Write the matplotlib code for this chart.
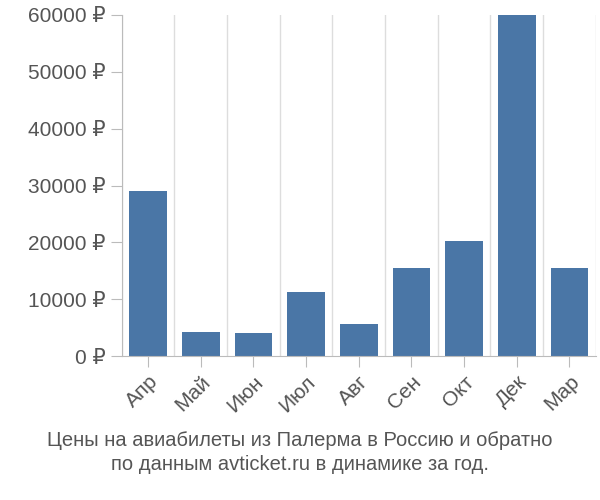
import matplotlib
matplotlib.use("Agg")
import matplotlib.pyplot as plt
import numpy as np

plt.rcParams['font.family'] = ['Liberation Sans', 'DejaVu Sans']

months = ['Апр', 'Май', 'Июн', 'Июл', 'Авг', 'Сен', 'Окт', 'Дек', 'Мар']
prices = [29000, 4300, 4100, 11300, 5600, 15500, 20200, 60000, 15400]
yticks = [0, 10000, 20000, 30000, 40000, 50000, 60000]

fig = plt.figure(figsize=(6, 5), dpi=100)
ax = fig.add_axes([0.203, 0.288, 0.79, 0.682])

x = np.arange(len(months))
ax.bar(x, prices, width=0.72, color='#4a76a6', zorder=2)

ax.set_xlim(-0.5, len(months) - 0.5)
ax.set_ylim(0, 60000)
ax.set_yticks(yticks)
ax.set_yticklabels([f'{v} ₽' for v in yticks], fontsize=15, color='#555555')
ax.set_xticks(x)
ax.set_xticklabels(months, rotation=45, ha='right', rotation_mode='anchor',
                   fontsize=15, color='#555555')
for b in np.arange(-0.5, len(months), 1.0):
    ax.axvline(b, color='#dddddd', lw=1, zorder=1)

for s in ['top', 'right']:
    ax.spines[s].set_visible(False)
ax.spines['left'].set_color('#bbbbbb')
ax.spines['bottom'].set_color('#bbbbbb')
ax.tick_params(axis='both', color='#bbbbbb', length=8)

fig.text(0.5, 0.095, 'Цены на авиабилеты из Палерма в Россию и обратно\nпо данным avticket.ru в динамике за год.',
         ha='center', va='center', fontsize=14.5, color='#555555', linespacing=1.4)

fig.savefig('out.png')
